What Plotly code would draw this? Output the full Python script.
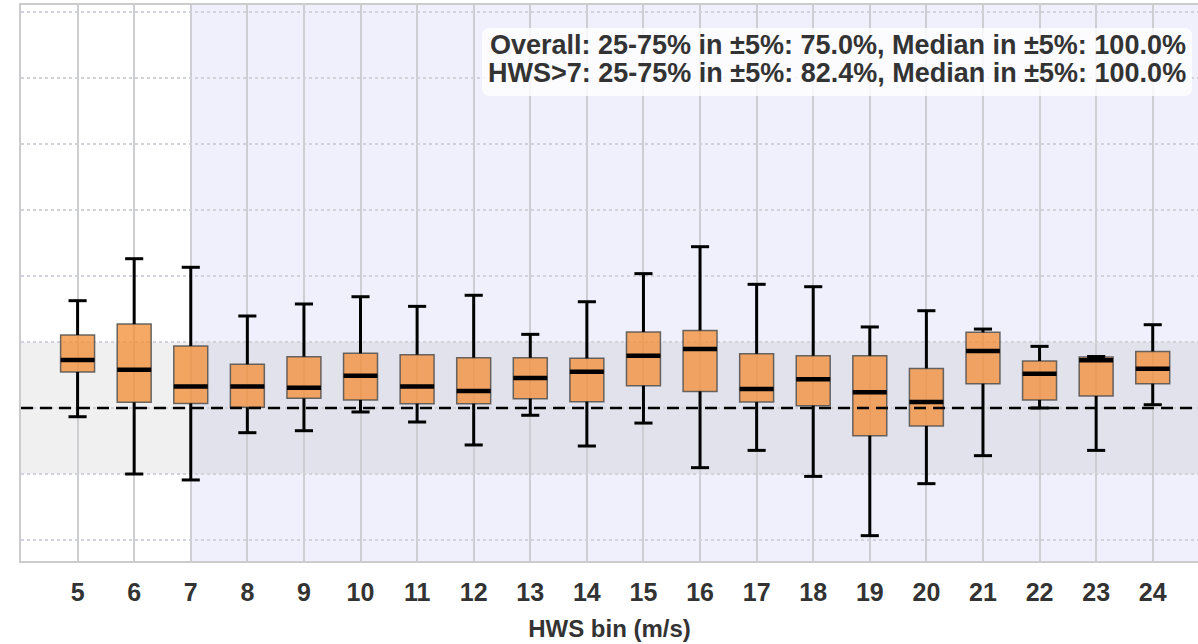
import plotly.graph_objects as go

# Wind-speed bins (m/s) and box statistics of the relative error (%)
bins = list(range(5, 25))
whisker_hi = [8.13, 11.31, 10.66, 6.97, 7.88, 8.43, 7.70, 8.54, 5.58, 8.05,
              10.18, 12.22, 9.37, 9.19, 6.14, 7.37, 5.98, 4.67, 3.90, 6.31]
q3 = [5.53, 6.36, 4.70, 3.31, 3.89, 4.14, 4.04, 3.81, 3.81, 3.76,
      5.76, 5.88, 4.11, 3.96, 3.96, 3.00, 5.73, 3.56, 3.87, 4.29]
median = [3.64, 2.90, 1.62, 1.62, 1.54, 2.45, 1.62, 1.29, 2.27, 2.75,
          3.96, 4.47, 1.44, 2.17, 1.19, 0.45, 4.32, 2.60, 3.61, 2.98]
q1 = [2.73, 0.43, 0.35, 0.05, 0.73, 0.61, 0.33, 0.33, 0.71, 0.48,
      1.69, 1.26, 0.45, 0.18, -2.10, -1.36, 1.84, 0.61, 0.91, 1.84]
whisker_lo = [-0.66, -5.00, -5.45, -1.87, -1.72, -0.30, -1.06, -2.80, -0.55, -2.88,
              -1.14, -4.52, -3.21, -5.18, -9.67, -5.73, -3.61, 0.00, -3.21, 0.25]

summary_lines = [
    "Overall: 25-75% in ±5%: 75.0%, Median in ±5%: 100.0%",
    "HWS>7: 25-75% in ±5%: 82.4%, Median in ±5%: 100.0%",
]

tolerance = 5.0
hws_threshold = 7
x_range = [4.0, 24.8]
y_range = [-11.59, 30.53]

BOX_W = 0.6
CAP_HALF = 0.16
FONT = "Liberation Sans, Arial, sans-serif"
TEXT = "#333333"

W, H = 1198, 644
M = dict(l=21, r=0, t=5, b=83)
PW, PH = W - M["l"] - M["r"], H - M["t"] - M["b"]


def px_to_paper(px, py):
    """Convert page pixel position to paper coordinates."""
    return (px - M["l"]) / PW, (H - M["b"] - py) / PH


fig = go.Figure()

# whiskers with caps
wx, wy = [], []
for b, lo, a, c, hi in zip(bins, whisker_lo, q1, q3, whisker_hi):
    wx += [b, b, None, b, b, None,
           b - CAP_HALF, b + CAP_HALF, None, b - CAP_HALF, b + CAP_HALF, None]
    wy += [lo, a, None, c, hi, None, lo, lo, None, hi, hi, None]
fig.add_trace(go.Scatter(x=wx, y=wy, mode="lines",
                         line=dict(color="black", width=3),
                         hoverinfo="skip", showlegend=False))

# interquartile boxes
fig.add_trace(go.Box(
    x=bins, q1=q1, median=median, q3=q3,
    lowerfence=q1, upperfence=q3,
    width=BOX_W, whiskerwidth=0,
    fillcolor="rgba(243,140,50,0.75)",
    line=dict(color="rgba(80,80,80,0.85)", width=1.5),
    showlegend=False, hoverinfo="skip",
))

# medians
mx, my = [], []
for b, m in zip(bins, median):
    mx += [b - BOX_W / 2, b + BOX_W / 2, None]
    my += [m, m, None]
fig.add_trace(go.Scatter(x=mx, y=my, mode="lines",
                         line=dict(color="black", width=4.5),
                         hoverinfo="skip", showlegend=False))

# rounded background panel for the summary text
bx0, by1 = px_to_paper(482, 28)
bx1, by0 = px_to_paper(1192, 96)
rx, ry = 8 / PW, 8 / PH
panel_path = (
    f"M {bx0 + rx},{by1} L {bx1 - rx},{by1} Q {bx1},{by1} {bx1},{by1 - ry} "
    f"L {bx1},{by0 + ry} Q {bx1},{by0} {bx1 - rx},{by0} "
    f"L {bx0 + rx},{by0} Q {bx0},{by0} {bx0},{by0 + ry} "
    f"L {bx0},{by1 - ry} Q {bx0},{by1} {bx0 + rx},{by1} Z"
)

shapes = [
    # HWS > 7 region
    dict(type="rect", xref="x", yref="paper", x0=hws_threshold, x1=x_range[1],
         y0=0, y1=1, fillcolor="rgba(110,110,230,0.10)", line_width=0,
         layer="below"),
    # ±5% tolerance band
    dict(type="rect", xref="paper", yref="y", x0=0, x1=1,
         y0=-tolerance, y1=tolerance, fillcolor="rgba(128,128,128,0.12)",
         line_width=0, layer="below"),
    # zero reference
    dict(type="line", xref="paper", yref="y", x0=0, x1=1, y0=0, y1=0,
         line=dict(color="black", width=2.5, dash="12px,7px"), layer="above"),
    dict(type="path", xref="paper", yref="paper", path=panel_path,
         fillcolor="rgba(255,255,255,0.8)", line_width=0, layer="above"),
]

annotations = []
tx, _ = px_to_paper(1188, 0)
for line, py in zip(summary_lines, [45, 73]):
    _, ty = px_to_paper(0, py)
    annotations.append(dict(
        xref="paper", yref="paper", x=tx, y=ty,
        xanchor="right", yanchor="middle", align="right",
        text=line, showarrow=False,
        font=dict(family=FONT, size=27, color=TEXT, weight="bold"),
    ))

fig.update_layout(
    width=W, height=H,
    margin=M,
    paper_bgcolor="white", plot_bgcolor="white",
    shapes=shapes,
    font=dict(family=FONT, color=TEXT),
    annotations=annotations,
)

fig.update_xaxes(
    range=x_range, tickmode="array", tickvals=bins,
    ticktext=[str(b) for b in bins],
    tickfont=dict(family=FONT, size=25, color=TEXT, weight="bold"),
    ticks="", ticklabelstandoff=8,
    showgrid=True, gridcolor="#cdcdd4", gridwidth=2,
    showline=True, mirror=True, linecolor="#cccccc", linewidth=2,
    zeroline=False,
    title=dict(text="HWS bin (m/s)", standoff=15,
               font=dict(family=FONT, size=24, color=TEXT, weight="bold")),
)
fig.update_yaxes(
    range=y_range, tick0=0, dtick=5, showticklabels=False, ticks="",
    showgrid=True, gridcolor="#d2d2da", gridwidth=1.6, griddash="dot",
    showline=True, linecolor="#cccccc", linewidth=2,
    zeroline=False,
)

fig.write_html("out.html")
